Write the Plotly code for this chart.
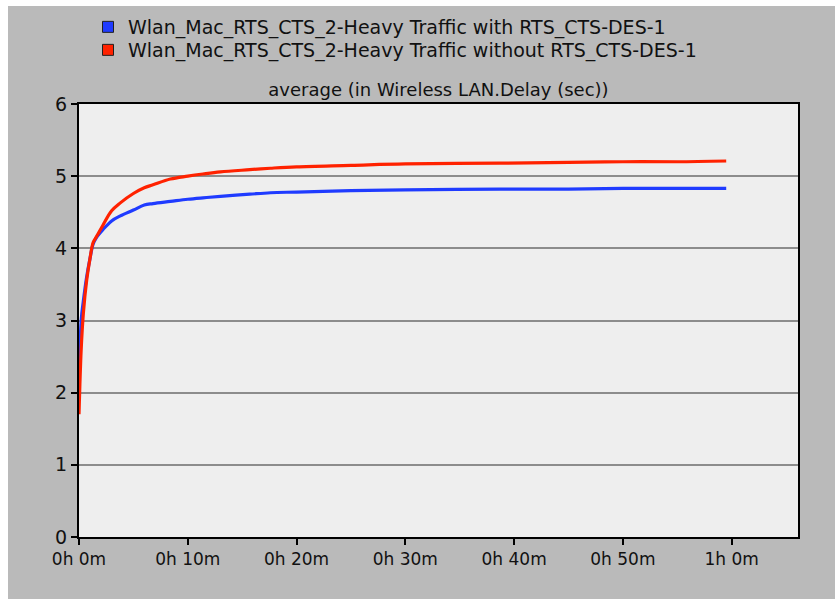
import plotly.graph_objects as go

minutes = [0, 0.2, 0.4, 0.7, 1.0, 1.3, 1.6, 2.2, 3.0, 3.8, 5.0, 6.0, 6.8, 8.4, 10, 11.4, 13, 15.7, 17.6, 20, 25, 30, 38.7, 45, 50, 55, 59.5]
with_rts = [2.0, 3.0, 3.27, 3.6, 3.85, 4.06, 4.15, 4.26, 4.38, 4.45, 4.53, 4.60, 4.62, 4.65, 4.68, 4.70, 4.72, 4.75, 4.77, 4.78, 4.80, 4.81, 4.82, 4.82, 4.83, 4.83, 4.83]
without_rts = [1.7, 2.6, 3.1, 3.55, 3.85, 4.08, 4.16, 4.32, 4.52, 4.63, 4.76, 4.84, 4.88, 4.96, 5.0, 5.03, 5.06, 5.09, 5.11, 5.13, 5.15, 5.17, 5.18, 5.19, 5.20, 5.20, 5.21]

x_tickvals = [0, 10, 20, 30, 40, 50, 60]
x_ticktext = ["0h 0m", "0h 10m", "0h 20m", "0h 30m", "0h 40m", "0h 50m", "1h 0m"]
y_tickvals = [0, 1, 2, 3, 4, 5, 6]

names = ["Wlan_Mac_RTS_CTS_2-Heavy Traffic with RTS_CTS-DES-1",
         "Wlan_Mac_RTS_CTS_2-Heavy Traffic without RTS_CTS-DES-1"]
colors = ["#1f3bff", "#ff2200"]
title = "average (in Wireless LAN.Delay (sec))"

FONT = "DejaVu Sans"
fig = go.Figure()
for ys, c in zip([with_rts, without_rts], colors):
    fig.add_trace(go.Scatter(x=minutes, y=ys, mode="lines", line=dict(color=c, width=3.2),
                             showlegend=False, line_shape="spline"))
for i, (n, c) in enumerate(zip(names, colors)):
    fig.add_trace(go.Scatter(x=[None], y=[None], mode="markers", name=n,
                             legend="legend" if i == 0 else "legend2",
                             marker=dict(symbol="square", size=11, color=c,
                                         line=dict(color="#202020", width=1))))

leg_common = dict(x=(88 - 79) / 719, xanchor="left", yanchor="middle",
                  bgcolor="rgba(0,0,0,0)", font=dict(family=FONT, size=19), itemwidth=30)
fig.update_layout(
    width=835, height=599,
    margin=dict(l=79, r=37, t=104, b=62, autoexpand=False),
    paper_bgcolor="#bababa", plot_bgcolor="#eeeeee",
    font=dict(family=FONT, size=16, color="#111111"),
    title=dict(text=title, x=0.5, xref="paper", xanchor="center", y=1 - 90/599, yanchor="middle",
               font=dict(family=FONT, size=18, color="#111111")),
    legend=dict(y=(537 - 27) / 433, **leg_common),
    legend2=dict(y=(537 - 50) / 433, **leg_common),
    shapes=[
        dict(type="rect", xref="paper", yref="paper", x0=-0.2, x1=(8 - 79) / 719, y0=-0.3, y1=1.4,
             fillcolor="white", line=dict(width=0), layer="below"),
        dict(type="rect", xref="paper", yref="paper", x0=-0.2, x1=1.2, y0=(537 - 6) / 433, y1=1.4,
             fillcolor="white", line=dict(width=0), layer="below"),
    ],
)
fig.update_xaxes(range=[0, 66.1], tickvals=x_tickvals, ticktext=x_ticktext,
                 showline=True, linecolor="black", linewidth=2, mirror=True,
                 ticks="outside", ticklen=6, tickwidth=1.5, tickcolor="black",
                 showgrid=False, zeroline=False, tickfont=dict(size=17))
fig.update_yaxes(range=[0, 6], tickvals=y_tickvals,
                 showline=True, linecolor="black", linewidth=2, mirror=True,
                 ticks="outside", ticklen=6, tickwidth=1.5, tickcolor="black",
                 showgrid=True, gridcolor="#8c8c8c", gridwidth=1.5, zeroline=False,
                 tickfont=dict(size=19))
fig.write_html("out.html")
